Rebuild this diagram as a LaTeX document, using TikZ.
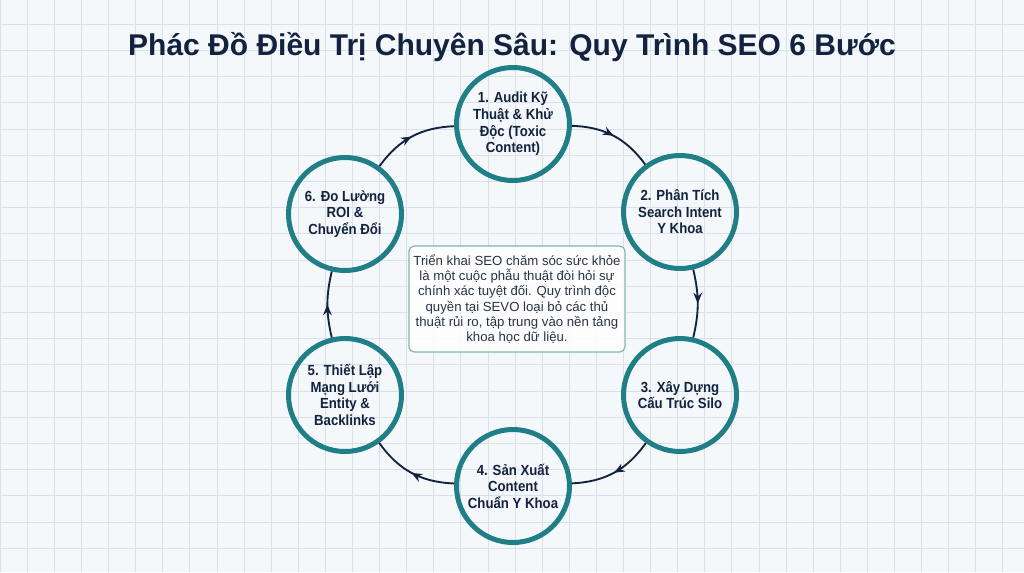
\documentclass[tikz,border=0pt]{standalone}
\usepackage{fontspec}
\setmainfont{Liberation Sans}
\newfontfamily\labelfont[FakeStretch=0.9]{Liberation Sans}
\usetikzlibrary{arrows.meta,decorations.markings}
\definecolor{bgc}{HTML}{F4F8FB}
\definecolor{gridc}{HTML}{D8E1EA}
\definecolor{navy}{HTML}{13223F}
\definecolor{teal}{HTML}{1F7E86}
\definecolor{boxline}{HTML}{86B5AB}
\definecolor{boxtext}{HTML}{2A3442}
\tikzset{
  stepcircle/.style={circle, draw=teal, line width=3.75pt, minimum size=84.75pt, inner sep=0pt,
    align=center, font=\labelfont\bfseries\fontsize{11pt}{12.4pt}\selectfont, text=navy},
  flow/.style={draw=navy, line width=1.4pt, postaction={decorate},
    decoration={markings, mark=at position 0.5 with {\arrow{Stealth[length=8pt,width=6.5pt]}}}},
  infobox/.style={draw=boxline, line width=0.9pt, rounded corners=4pt, fill=white, fill opacity=0.85, text opacity=1,
    minimum width=160.5pt, minimum height=79.5pt, align=center, text=boxtext,
    font=\fontsize{9.9pt}{11.5pt}\selectfont}
}
\begin{document}
\begin{tikzpicture}[x=0.75pt,y=-0.75pt]
\fill[bgc] (0,0) rectangle (1024,572);
\useasboundingbox (0,0) rectangle (1024,572);
\draw[gridc, line width=0.75pt]
  \foreach \i in {0,...,38} {({0.2+27.1*\i},0) -- ({0.2+27.1*\i},572)}
  \foreach \j in {0,...,22} {(0,{-1.9+26.2*\j}) -- (1024,{-1.9+26.2*\j})};
\node[anchor=base, text=navy, font=\bfseries\fontsize{22.5pt}{26pt}\selectfont] (title) at (512,55) {Phác Đồ Điều Trị Chuyên Sâu: Quy Trình SEO 6 Bước};
\node[stepcircle] (c1) at (513,124) {1. Audit Kỹ\\Thuật \& Khử\\Độc (Toxic\\Content)};
\node[stepcircle] (c2) at (680,212) {2. Phân Tích\\Search Intent\\Y Khoa};
\node[stepcircle] (c3) at (680,395) {3. Xây Dựng\\Cấu Trúc Silo};
\node[stepcircle] (c4) at (513,486) {4. Sản Xuất\\Content\\Chuẩn Y Khoa};
\node[stepcircle] (c5) at (345,395) {5. Thiết Lập\\Mạng Lưới\\Entity \&\\Backlinks};
\node[stepcircle] (c6) at (345,214) {6. Đo Lường\\ROI \&\\Chuyển Đổi};
\draw[flow] (c1) to[bend left=26] (c2);
\draw[flow] (c2) to[bend left=13] (c3);
\draw[flow] (c3) to[bend left=26] (c4);
\draw[flow] (c4) to[bend left=26] (c5);
\draw[flow] (c5) to[bend left=13] (c6);
\draw[flow] (c6) to[bend left=26] (c1);
\node[infobox] (info) at (517,299) {Triển khai SEO chăm sóc sức khỏe\\là một cuộc phẫu thuật đòi hỏi sự\\chính xác tuyệt đối. Quy trình độc\\quyền tại SEVO loại bỏ các thủ\\thuật rủi ro, tập trung vào nền tảng\\khoa học dữ liệu.};
\end{tikzpicture}
\end{document}
